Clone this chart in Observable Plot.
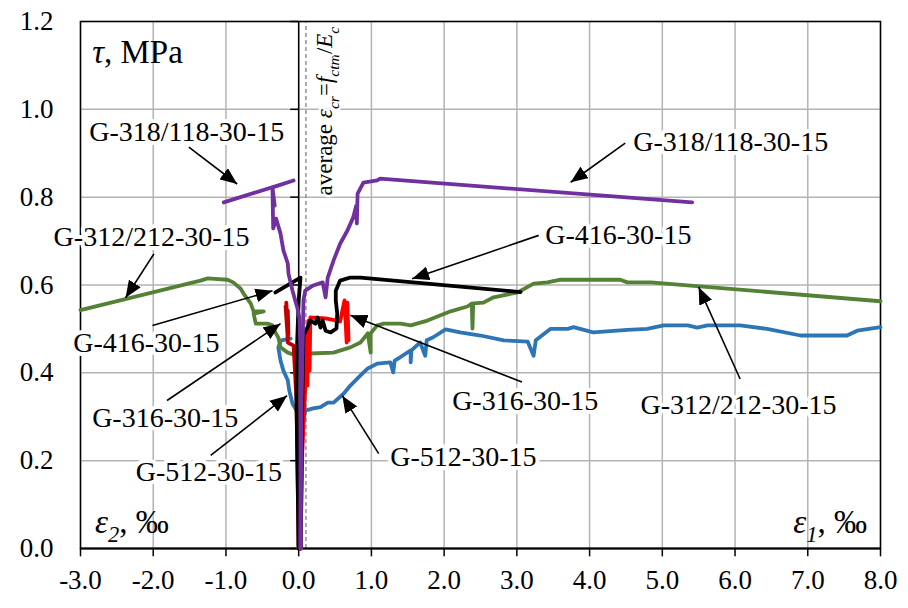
<!DOCTYPE html>
<html>
<head>
<meta charset="utf-8">
<script src="https://cdn.jsdelivr.net/npm/d3@7"></script>
<script src="https://cdn.jsdelivr.net/npm/@observablehq/plot@0.6"></script>
<style>
  html, body { margin: 0; padding: 0; background: white; }
</style>
</head>
<body>
<div id="chart"></div>
<script>
// ---- axis ticks ----
const xTicks = [-3, -2, -1, 0, 1, 2, 3, 4, 5, 6, 7, 8];
const yTicks = [0, 0.2, 0.4, 0.6, 0.8, 1.0, 1.2];

// ---- series: [strain ‰, τ MPa] ----
const g318_e2 = [[0.025,0],[0.025,0.451],[0.01,0.526],[-0.02,0.549],[-0.085,0.587],[-0.14,0.626],[-0.15,0.649],[-0.21,0.679],[-0.25,0.717],[-0.31,0.751],[-0.35,0.729],[-0.36,0.815],[-0.33,0.781],[-0.36,0.822],[-0.07,0.838],[-1.03,0.788]];
const g318_e1 = [[0.025,0],[0.04,0.337],[0.066,0.565],[0.09,0.587],[0.20,0.599],[0.33,0.606],[0.37,0.572],[0.40,0.617],[0.48,0.656],[0.57,0.694],[0.67,0.724],[0.75,0.754],[0.79,0.78],[0.80,0.74],[0.81,0.808],[0.89,0.833],[1.08,0.838],[1.12,0.842],[5.41,0.788]];

const g312_e2 = [[0,0],[0,0.337],[-0.02,0.439],[-0.15,0.446],[-0.25,0.458],[-0.28,0.480],[-0.32,0.492],[-0.36,0.508],[-0.43,0.512],[-0.59,0.512],[-0.62,0.535],[-0.48,0.540],[-0.62,0.540],[-0.66,0.558],[-0.69,0.565],[-0.76,0.581],[-0.80,0.592],[-0.90,0.606],[-0.98,0.612],[-1.25,0.615],[-1.35,0.610],[-3.0,0.543]];
const g312_e1 = [[0,0],[0.02,0.337],[0.025,0.444],[0.16,0.444],[0.48,0.446],[0.71,0.458],[0.85,0.469],[0.95,0.490],[0.99,0.446],[0.99,0.490],[1.08,0.508],[1.17,0.512],[1.40,0.512],[1.54,0.508],[1.77,0.519],[2.09,0.540],[2.32,0.551],[2.38,0.558],[2.39,0.501],[2.40,0.558],[2.54,0.560],[2.68,0.572],[3.01,0.583],[3.23,0.603],[3.42,0.606],[3.60,0.612],[4.42,0.612],[4.52,0.606],[4.84,0.606],[8.0,0.563]];

const g512_e2 = [[0,0],[0,0.291],[-0.03,0.314],[-0.085,0.330],[-0.13,0.360],[-0.15,0.383],[-0.21,0.405],[-0.25,0.428],[-0.28,0.458],[-0.24,0.474],[-0.11,0.478]];
const g512_e1 = [[0.025,0],[0.05,0.246],[0.066,0.291],[0.09,0.314],[0.20,0.319],[0.30,0.322],[0.40,0.332],[0.48,0.332],[0.62,0.353],[0.71,0.371],[0.85,0.394],[0.95,0.410],[1.08,0.421],[1.26,0.424],[1.30,0.401],[1.32,0.428],[1.40,0.436],[1.54,0.451],[1.54,0.424],[1.55,0.451],[1.67,0.469],[1.74,0.439],[1.76,0.474],[1.85,0.481],[2.02,0.499],[2.22,0.492],[2.50,0.485],[2.82,0.474],[3.15,0.471],[3.23,0.439],[3.26,0.474],[3.46,0.500],[3.70,0.500],[3.78,0.504],[4.05,0.492],[4.38,0.496],[4.52,0.498],[4.79,0.500],[5.02,0.508],[5.35,0.508],[5.48,0.503],[5.62,0.508],[6.07,0.508],[6.44,0.500],[6.90,0.485],[7.54,0.485],[7.68,0.496],[8.0,0.504]];

const g416_e2 = [[0,0],[-0.02,0.223],[-0.03,0.337],[-0.02,0.474],[0,0.565],[0.025,0.617],[-0.32,0.583]];
const g416_e1 = [[0.025,0],[0.04,0.223],[0.05,0.337],[0.066,0.485],[0.12,0.503],[0.16,0.519],[0.23,0.512],[0.26,0.526],[0.30,0.503],[0.33,0.519],[0.37,0.496],[0.44,0.492],[0.52,0.501],[0.53,0.535],[0.51,0.565],[0.51,0.587],[0.57,0.610],[0.71,0.617],[0.85,0.617],[3.05,0.584]];

const g316_e2 = [[0,0],[-0.02,0.223],[-0.03,0.337],[-0.07,0.462],[-0.15,0.469],[-0.17,0.560],[-0.15,0.478],[-0.18,0.551],[-0.14,0.485],[-0.15,0.542]];
const g316_e1 = [[0.025,0],[0.05,0.223],[0.09,0.367],[0.11,0.496],[0.12,0.371],[0.135,0.519],[0.15,0.405],[0.16,0.526],[0.37,0.524],[0.57,0.517],[0.63,0.565],[0.66,0.469],[0.67,0.560],[0.685,0.474],[0.66,0.52]];

// ---- annotations ----
const labelText = ["G-318/118-30-15","G-318/118-30-15","G-312/212-30-15","G-312/212-30-15","G-416-30-15","G-416-30-15","G-316-30-15","G-316-30-15","G-512-30-15","G-512-30-15"];
const labelX =    [-2.88, 4.60, -3.37, 4.70, -3.10, 3.39, -2.84, 2.11, -2.24, 1.26];
const labelY =    [0.949, 0.925, 0.710, 0.326, 0.467, 0.713, 0.296, 0.335, 0.175, 0.209];
const arrowX1 = [-1.51, 4.49, -1.99, 6.07, -2.01, 3.30, -1.81, 3.07, -1.21, 1.10];
const arrowY1 = [0.914, 0.923, 0.671, 0.386, 0.508, 0.713, 0.337, 0.379, 0.212, 0.216];
const arrowX2 = [-0.846, 3.74, -2.38, 5.50, -0.36, 1.56, -0.25, 0.71, -0.16, 0.60];
const arrowY2 = [0.830, 0.834, 0.571, 0.595, 0.587, 0.614, 0.512, 0.531, 0.348, 0.348];

const crackStrain = 0.1; // average ε_cr = f_ctm / E_c

// ---- build tables ----
const seriesDefs = [
  ["G-512 ε2", g512_e2, "#2E75B6"], ["G-512 ε1", g512_e1, "#2E75B6"],
  ["G-312 ε2", g312_e2, "#548235"], ["G-312 ε1", g312_e1, "#548235"],
  ["G-316 ε2", g316_e2, "#C00000"], ["G-316 ε1", g316_e1, "#FF0000"],
  ["G-416 ε2", g416_e2, "#000000"], ["G-416 ε1", g416_e1, "#000000"],
  ["G-318 ε2", g318_e2, "#7030A0"], ["G-318 ε1", g318_e1, "#7030A0"]
];
const lineMarks = seriesDefs.map(([name, pts, color]) =>
  Plot.line(pts.map(([x, y]) => ({x, y, name})), {x: "x", y: "y", stroke: color, strokeWidth: 3.8, strokeLinejoin: "round", strokeLinecap: "round"}));

const labels = labelText.map((t, i) => ({t, x: labelX[i], y: labelY[i]}));
const arrows = arrowX1.map((x1, i) => ({x1, y1: arrowY1[i], x2: arrowX2[i], y2: arrowY2[i]}));
const fmt = d => d.toFixed(1);
const serif = "Liberation Serif";

const plot = Plot.plot({
  width: 908, height: 608,
  marginLeft: 80, marginRight: 28, marginTop: 21, marginBottom: 60,
  style: {fontFamily: serif, fontSize: "27px", background: "white", overflow: "visible"},
  x: {domain: [-3, 8], axis: null},
  y: {domain: [0, 1.2], axis: null},
  marks: [
    Plot.ruleX(xTicks, {stroke: "#b3b3b3", strokeWidth: 1.5}),
    Plot.ruleY(yTicks, {stroke: "#b3b3b3", strokeWidth: 1.5}),
    Plot.ruleX([crackStrain], {y1: 0, y2: 1.2, stroke: "#808080", strokeWidth: 1.3, strokeDasharray: "4,3"}),
    Plot.ruleX([0], {y1: 0, y2: 1.2, stroke: "black", strokeWidth: 1.5}),
    Plot.ruleY(yTicks, {y: d => d, x1: -0.11, x2: 0, stroke: "black", strokeWidth: 1.5}),
    Plot.ruleX(xTicks, {x: d => d, y1: 0, y2: -0.019, stroke: "black", strokeWidth: 1.5}),
    Plot.frame({stroke: "black", strokeWidth: 1.5}),
    Plot.ruleY([0], {stroke: "black", strokeWidth: 2}),
    // tick labels
    Plot.text(xTicks, {x: d => d, y: 0, dy: 32, text: fmt, fontSize: 27, fontFamily: serif, fill: "black"}),
    Plot.text(yTicks, {x: -3, y: d => d, dx: -27, text: fmt, textAnchor: "end", fontSize: 27, fontFamily: serif, fill: "black"}),
    Plot.text(["average εcr=fctm/Ec"], {x: 0.36, y: 0.804, rotate: -90, textAnchor: "start", fontSize: 23, fill: "#000", stroke: "white", strokeWidth: 5}),
    ...lineMarks,
    Plot.link(arrows, {x1: "x1", y1: "y1", x2: "x2", y2: "y2", stroke: "black", strokeWidth: 1.6}),
    Plot.text(labels, {x: "x", y: "y", text: "t", textAnchor: "start", fontSize: 28, fill: "black", stroke: "white", strokeWidth: 8}),
    Plot.text(["τ, MPa"], {x: -2.84, y: 1.129, textAnchor: "start", fontSize: 33, fill: "black"}),
    Plot.text(["ε2, ‰"], {x: -2.80, y: 0.059, textAnchor: "start", fontSize: 33, fill: "black"}),
    Plot.text(["ε1, ‰"], {x: 6.80, y: 0.059, textAnchor: "start", fontSize: 33, fill: "black"})
  ]
});
document.getElementById("chart").appendChild(plot);

// ---- post-processing: arrowheads and rich text ----
const svg = d3.select(plot.tagName.toLowerCase() === "svg" ? plot : plot.querySelector("svg"));
svg.append("defs").append("marker")
  .attr("id", "ahead").attr("markerUnits", "userSpaceOnUse")
  .attr("markerWidth", 18).attr("markerHeight", 14)
  .attr("refX", 17).attr("refY", 7).attr("orient", "auto")
  .append("path").attr("d", "M0,0L17,7L0,14Z").attr("fill", "black");
svg.selectAll('g[aria-label="link"] path').attr("marker-end", "url(#ahead)");
svg.selectAll("text").attr("paint-order", "stroke");

function rich(match, parts, fs) {
  svg.selectAll("text").filter(function () { return this.textContent === match; }).each(function () {
    const t = d3.select(this);
    t.text(null);
    let shift = 0;
    parts.forEach(p => {
      const ts = t.append("tspan").text(p.t);
      if (p.i) ts.attr("font-style", "italic");
      const target = p.sub ? fs * 0.28 : 0;
      if (target !== shift) { ts.attr("dy", target - shift); shift = target; }
      if (p.sub) ts.attr("font-size", fs * 0.68);
    });
  });
}
rich("τ, MPa", [{t: "τ", i: true}, {t: ", MPa"}], 33);
rich("ε2, ‰", [{t: "ε", i: true}, {t: "2", i: true, sub: true}, {t: ", ‰"}], 33);
rich("ε1, ‰", [{t: "ε", i: true}, {t: "1", i: true, sub: true}, {t: ", ‰"}], 33);
rich("average εcr=fctm/Ec", [{t: "average "}, {t: "ε", i: true}, {t: "cr", i: true, sub: true}, {t: "="}, {t: "f", i: true}, {t: "ctm", i: true, sub: true}, {t: "/"}, {t: "E", i: true}, {t: "c", i: true, sub: true}], 23);
</script>
</body>
</html>
